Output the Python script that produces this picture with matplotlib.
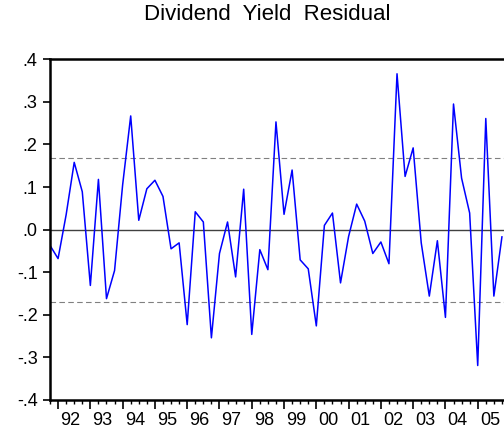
import matplotlib
matplotlib.use("Agg")
import matplotlib.pyplot as plt
import numpy as np

# quarterly residuals, 1991Q4 .. 2005Q4
start_year = 1991.75
resid = [-0.037, -0.068, 0.035, 0.158, 0.089, -0.131, 0.118, -0.162, -0.096, 0.105,
         0.267, 0.022, 0.096, 0.116, 0.078, -0.045, -0.031, -0.223, 0.042, 0.018,
         -0.254, -0.056, 0.018, -0.111, 0.095, -0.246, -0.047, -0.094, 0.253, 0.036,
         0.140, -0.071, -0.092, -0.226, 0.010, 0.039, -0.125, -0.016, 0.060, 0.020,
         -0.056, -0.029, -0.080, 0.366, 0.125, 0.192, -0.031, -0.156, -0.026, -0.206,
         0.295, 0.121, 0.039, -0.319, 0.261, -0.156, -0.017]
band = 0.169
years = list(range(1992, 2006))
year_labels = [f"{y % 100:02d}" for y in years]
ytick_vals = [0.4, 0.3, 0.2, 0.1, 0.0, -0.1, -0.2, -0.3, -0.4]
ytick_labels = [".4", ".3", ".2", ".1", ".0", "-.1", "-.2", "-.3", "-.4"]

plt.rcParams['font.family'] = ['Liberation Sans', 'DejaVu Sans']

t = start_year + 0.25 * np.arange(len(resid))

fig = plt.figure(figsize=(5.04, 4.30), dpi=100)
# axes runs past the right edge of the figure, like the cropped original
ax = fig.add_axes([50 / 504, 1 - 400 / 430, 460 / 504, (400 - 59.3) / 430])

ax.axhline(0, color='#404040', linewidth=1.0, zorder=1)
ax.axhline(band, color='#808080', linewidth=0.8, linestyle=(0, (5, 3)), zorder=1)
ax.axhline(-band, color='#808080', linewidth=0.8, linestyle=(0, (5, 3)), zorder=1)
ax.plot(t, resid, color='#0000ff', linewidth=1.1, zorder=2)

ax.set_xlim(start_year, 2006.0)
ax.set_ylim(-0.4, 0.4)

ax.set_yticks(ytick_vals)
ax.set_yticklabels(ytick_labels)
ax.set_xticks(years)
ax.set_xticklabels([])
ax.set_xticks(np.arange(1991.75, 2006.01, 0.25), minor=True)

ax.tick_params(axis='y', direction='out', length=5, width=1.2, pad=4, labelsize=13)
ax.tick_params(axis='x', which='major', direction='out', length=6.5, width=1.2)
ax.tick_params(axis='x', which='minor', direction='out', length=3, width=1.0)

for y, lab in zip(years, year_labels):
    ax.text(y + 0.375, -0.035, lab, transform=ax.get_xaxis_transform(),
            ha='center', va='top', fontsize=13)

for side in ['left', 'top', 'bottom']:
    ax.spines[side].set_linewidth(1.8)
ax.spines['right'].set_visible(False)

fig.text(267 / 504, 1 - 14 / 430, "Dividend  Yield  Residual", ha='center', va='center',
         fontsize=16)

fig.savefig('out.png', dpi=100)
